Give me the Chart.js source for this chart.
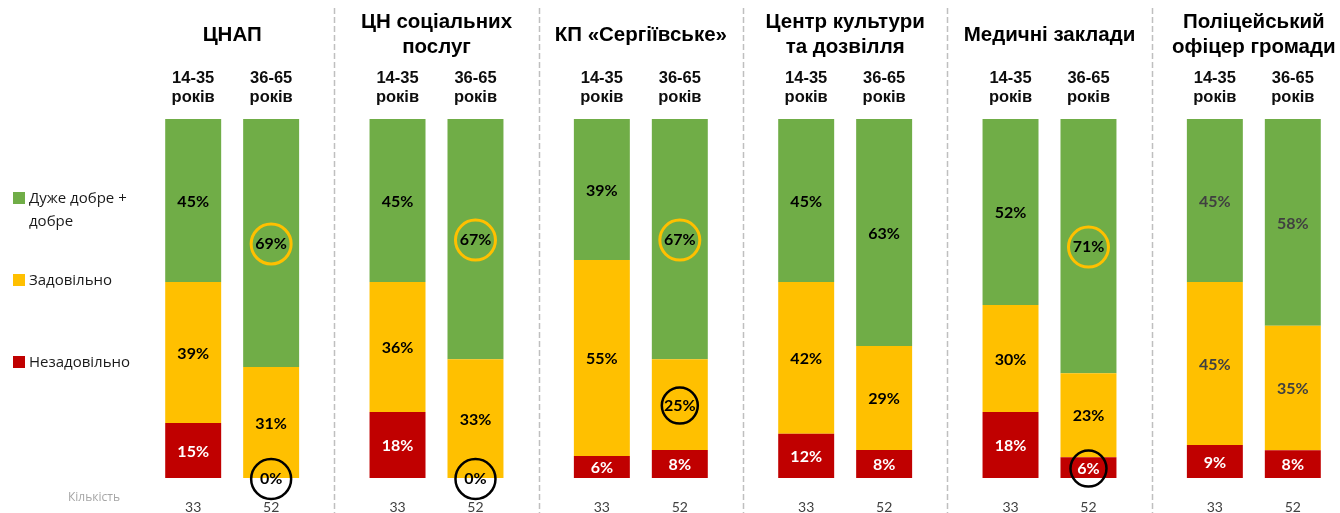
<!DOCTYPE html>
<html lang="uk">
<head>
<meta charset="utf-8">
<title>Оцінка якості послуг</title>
<script src="https://cdn.jsdelivr.net/npm/chart.js@4.4.1/dist/chart.umd.min.js"></script>
<style>
  html, body { margin: 0; padding: 0; background: #fff; overflow: hidden; }
  .wrap { position: relative; width: 1340px; height: 513px; overflow: hidden; }
  .chart-box { position: absolute; left: 0; top: 0; width: 1360px; height: 513px; }
  .legend-item {
    position: absolute;
    left: 13px;
    font-family: "Open Sans", "Noto Sans", sans-serif;
    font-size: 15px;
    line-height: 23px;
    color: #1a1a1a;
    padding-left: 16px;
  }
  .legend-item .sw {
    position: absolute;
    left: 0;
    top: 6px;
    width: 12px;
    height: 12px;
  }
  .count-label {
    position: absolute;
    left: 68px;
    top: 488px;
    font-family: "Open Sans", "Noto Sans", sans-serif;
    font-size: 12px;
    color: #a6a6a6;
  }
</style>
</head>
<body>
<div class="wrap">
  <div class="chart-box"><canvas id="chart" width="1360" height="513"></canvas></div>
  <div class="legend-item" style="top:186px"><span class="sw" style="background:#70AD47"></span>Дуже добре +<br>добре</div>
  <div class="legend-item" style="top:268px"><span class="sw" style="background:#FFC000"></span>Задовільно</div>
  <div class="legend-item" style="top:350px"><span class="sw" style="background:#C00000"></span>Незадовільно</div>
  <div class="count-label">Кількість</div>
</div>

<script>
// Services (categories), titles split into lines
const services = [
  ['ЦНАП'],
  ['ЦН соціальних', 'послуг'],
  ['КП «Сергіївське»'],
  ['Центр культури', 'та дозвілля'],
  ['Медичні заклади'],
  ['Поліцейський', 'офіцер громади']
];
const ageGroups = [['14-35', 'років'], ['36-65', 'років']];

// Shares, % (14-35 years)
const goodYoung = [45.4, 45.4, 39.3, 45.4, 51.8, 45.4];
const fairYoung = [39.3, 36.2, 54.6, 42.3, 29.8, 45.4];
const poorYoung = [15.3, 18.4, 6.1, 12.3, 18.4, 9.2];

// Shares, % (36-65 years)
const goodOld = [69.1, 66.9, 66.9, 63.2, 70.8, 57.6];
const fairOld = [30.9, 33.1, 25.3, 29.0, 23.4, 34.7];
const poorOld = [0, 0, 7.8, 7.8, 5.8, 7.7];

// Respondents
const countsYoung = [33, 33, 33, 33, 33, 33];
const countsOld = [52, 52, 52, 52, 52, 52];

const seriesNames = {
  good: 'Дуже добре + добре',
  fair: 'Задовільно',
  poor: 'Незадовільно'
};
const colors = { good: '#70AD47', fair: '#FFC000', poor: '#C00000' };

// Circled values
const highlights = [
  { cat: 0, stack: 'old', series: 'good', color: '#FFC000', r: 20 },
  { cat: 0, stack: 'old', series: 'poor', color: '#000000', r: 20 },
  { cat: 1, stack: 'old', series: 'good', color: '#FFC000', r: 20 },
  { cat: 1, stack: 'old', series: 'poor', color: '#000000', r: 20 },
  { cat: 2, stack: 'old', series: 'good', color: '#FFC000', r: 20 },
  { cat: 2, stack: 'old', series: 'fair', color: '#000000', r: 18 },
  { cat: 4, stack: 'old', series: 'good', color: '#FFC000', r: 20 },
  { cat: 4, stack: 'old', series: 'poor', color: '#000000', r: 18 }
];

function makeSet(series, stack, data) {
  return {
    label: seriesNames[series],
    series: series,
    stack: stack,
    data: data,
    backgroundColor: colors[series],
    borderWidth: 0
  };
}

const datasets = [
  makeSet('poor', 'young', poorYoung),
  makeSet('fair', 'young', fairYoung),
  makeSet('good', 'young', goodYoung),
  makeSet('poor', 'old', poorOld),
  makeSet('fair', 'old', fairOld),
  makeSet('good', 'old', goodOld)
];

/**
 * Draws value labels, circles, titles, age labels, counts and separators
 */
const overlayPlugin = {
  id: 'overlay',
  afterDatasetsDraw(chart) {
    const ctx = chart.ctx;
    const area = chart.chartArea;
    const xScale = chart.scales.x;
    ctx.save();

    // separators between services
    const step = (area.right - area.left) / services.length;
    ctx.strokeStyle = '#BFBFBF';
    ctx.lineWidth = 1.5;
    ctx.setLineDash([6, 3]);
    for (let k = 1; k < services.length; k++) {
      const x = Math.round(area.left + step * k) + 0.5;
      ctx.beginPath();
      ctx.moveTo(x, 8);
      ctx.lineTo(x, chart.height);
      ctx.stroke();
    }
    ctx.setLineDash([]);

    // value labels
    ctx.textAlign = 'center';
    ctx.textBaseline = 'middle';
    ctx.font = 'bold 16px Lato, "Open Sans", sans-serif';
    chart.data.datasets.forEach((ds, di) => {
      const meta = chart.getDatasetMeta(di);
      meta.data.forEach((bar, i) => {
        const v = ds.data[i];
        let color = '#000000';
        if (ds.series === 'poor' && v > 0) color = '#FFFFFF';
        else if (i === services.length - 1) color = '#404040';
        ctx.fillStyle = color;
        ctx.fillText(Math.round(v) + '%', bar.x, (bar.y + bar.base) / 2 + 1);
      });
    });

    // circles
    highlights.forEach(h => {
      const di = chart.data.datasets.findIndex(d => d.stack === h.stack && d.series === h.series);
      const bar = chart.getDatasetMeta(di).data[h.cat];
      const cy = (bar.y + bar.base) / 2 + 1;
      ctx.strokeStyle = h.color;
      ctx.lineWidth = h.color === '#FFC000' ? 3 : 2.5;
      ctx.beginPath();
      ctx.arc(bar.x, cy, h.r, 0, Math.PI * 2);
      ctx.stroke();
    });

    // service titles
    ctx.fillStyle = '#000000';
    ctx.font = 'bold 20.5px "Liberation Sans", Arial, sans-serif';
    services.forEach((lines, i) => {
      const cx = xScale.getPixelForValue(i);
      const top = 35 - (lines.length - 1) * 12.5;
      lines.forEach((line, li) => ctx.fillText(line, cx, top + li * 25));
    });

    // age labels and counts under each bar
    const stacks = ['young', 'old'];
    stacks.forEach((stack, si) => {
      const di = chart.data.datasets.findIndex(d => d.stack === stack);
      const counts = stack === 'young' ? countsYoung : countsOld;
      chart.getDatasetMeta(di).data.forEach((bar, i) => {
        ctx.fillStyle = '#0d0d0d';
        ctx.font = 'bold 16.5px "Liberation Sans", Arial, sans-serif';
        ageGroups[si].forEach((line, li) => ctx.fillText(line, bar.x, 78 + li * 19));
        ctx.fillStyle = '#404040';
        ctx.font = '14px Lato, "Open Sans", sans-serif';
        ctx.fillText(String(counts[i]), bar.x, 507);
      });
    });

    ctx.restore();
  }
};

new Chart(document.getElementById('chart'), {
  type: 'bar',
  data: {
    labels: services.map(s => s.join(' ')),
    datasets: datasets
  },
  options: {
    responsive: false,
    animation: false,
    devicePixelRatio: 1,
    layout: { padding: { left: 130, right: 4, top: 119, bottom: 35 } },
    datasets: {
      bar: { categoryPercentage: 0.763, barPercentage: 0.718 }
    },
    scales: {
      x: { stacked: true, display: false },
      y: { stacked: true, display: false, min: 0, max: 100 }
    },
    plugins: {
      legend: { display: false },
      tooltip: { enabled: false }
    }
  },
  plugins: [overlayPlugin]
});
</script>
</body>
</html>
